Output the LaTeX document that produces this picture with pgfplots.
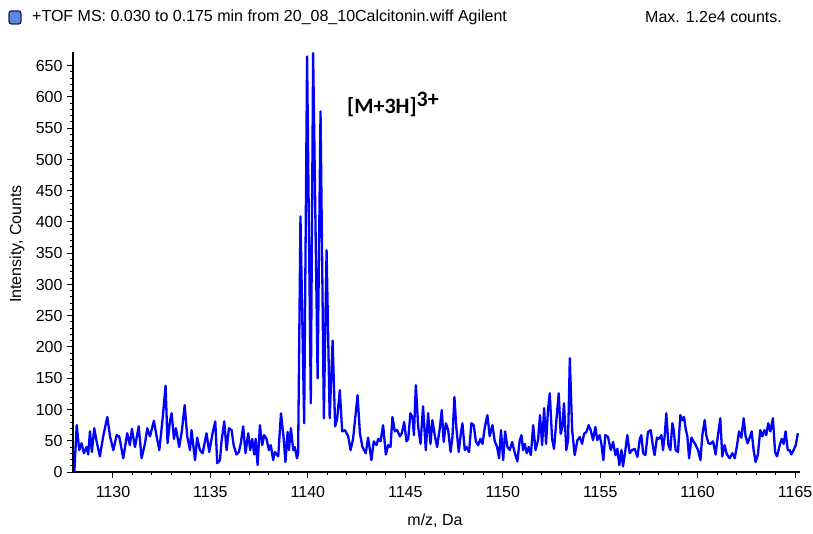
\documentclass[border=0pt]{standalone}
\usepackage{pgfplots}
\pgfplotsset{compat=1.18}
\usepackage{pgfplotstable}
\usepackage{fontspec}
\setmainfont{Liberation Sans}
\newfontfamily\annfont{Carlito}
\definecolor{specblue}{RGB}{0,0,255}
\definecolor{iconblue}{RGB}{95,135,225}
\definecolor{iconedge}{RGB}{20,30,90}

\pgfplotstableread{
mz count
1128.02 0
1128.14 75
1128.27 35
1128.39 46
1128.51 30
1128.65 40
1128.73 28
1128.82 65
1128.92 32
1129.04 70
1129.16 49
1129.33 25
1129.50 57
1129.71 88
1129.85 57
1130.02 35
1130.19 59
1130.32 57
1130.53 22
1130.73 62
1130.87 43
1130.97 69
1131.13 40
1131.32 73
1131.47 22
1131.64 45
1131.76 70
1131.90 57
1132.10 82
1132.24 57
1132.38 35
1132.55 86
1132.70 138
1132.80 46
1132.92 80
1133.01 94
1133.13 53
1133.23 70
1133.40 40
1133.54 67
1133.68 107
1133.81 57
1133.95 35
1134.03 67
1134.21 19
1134.32 55
1134.46 35
1134.60 30
1134.72 49
1134.80 62
1134.94 32
1135.11 62
1135.25 81
1135.35 14
1135.49 19
1135.57 49
1135.71 81
1135.83 35
1135.95 70
1136.09 67
1136.19 43
1136.34 28
1136.46 32
1136.56 46
1136.68 73
1136.80 30
1136.94 62
1137.04 35
1137.14 53
1137.25 28
1137.32 53
1137.42 11
1137.54 75
1137.66 43
1137.76 59
1137.88 53
1138.00 35
1138.10 43
1138.22 19
1138.31 32
1138.48 25
1138.62 94
1138.75 57
1138.85 16
1138.96 64
1139.03 35
1139.13 70
1139.25 35
1139.33 40
1139.44 22
1139.50 30
1139.62 409
1139.81 78
1139.96 665
1140.15 110
1140.27 670
1140.50 150
1140.65 577
1140.82 86
1140.96 355
1141.12 86
1141.27 210
1141.40 73
1141.50 85
1141.64 131
1141.76 65
1141.90 67
1142.07 57
1142.19 35
1142.32 53
1142.55 123
1142.67 62
1142.80 40
1142.97 30
1143.09 55
1143.26 19
1143.38 49
1143.52 43
1143.61 53
1143.73 49
1143.86 75
1144.00 28
1144.12 43
1144.24 40
1144.34 88
1144.46 65
1144.58 67
1144.72 57
1144.82 62
1144.94 80
1145.06 49
1145.15 53
1145.26 94
1145.37 88
1145.44 59
1145.54 139
1145.66 72
1145.78 45
1145.91 105
1146.05 35
1146.17 94
1146.29 45
1146.39 83
1146.51 59
1146.63 40
1146.77 70
1146.87 99
1146.97 48
1147.08 78
1147.20 67
1147.32 32
1147.42 57
1147.52 120
1147.62 70
1147.74 32
1147.85 62
1147.93 78
1148.05 35
1148.14 40
1148.27 32
1148.39 78
1148.51 75
1148.62 49
1148.74 43
1148.85 53
1148.96 45
1149.08 72
1149.21 91
1149.33 57
1149.47 75
1149.59 49
1149.71 40
1149.81 22
1149.91 67
1150.02 19
1150.12 65
1150.24 40
1150.36 35
1150.48 48
1150.62 30
1150.75 17
1150.87 51
1150.96 59
1151.04 35
1151.13 45
1151.23 30
1151.33 40
1151.44 27
1151.56 75
1151.68 35
1151.81 51
1151.91 91
1152.02 43
1152.12 102
1152.22 45
1152.32 99
1152.41 126
1152.53 53
1152.63 37
1152.75 83
1152.87 126
1152.97 61
1153.06 72
1153.14 110
1153.26 35
1153.35 51
1153.44 182
1153.56 67
1153.69 27
1153.83 51
1153.95 56
1154.07 45
1154.17 61
1154.29 64
1154.41 75
1154.51 67
1154.63 51
1154.75 72
1154.85 51
1154.97 59
1155.06 45
1155.16 19
1155.26 59
1155.40 56
1155.54 35
1155.66 48
1155.78 27
1155.88 37
1155.98 11
1156.09 35
1156.17 9
1156.29 35
1156.39 59
1156.51 30
1156.63 35
1156.77 37
1156.91 24
1157.03 53
1157.11 59
1157.20 30
1157.32 27
1157.45 64
1157.59 67
1157.71 40
1157.79 27
1157.91 55
1158.02 53
1158.14 59
1158.22 35
1158.31 59
1158.39 94
1158.50 43
1158.60 35
1158.70 78
1158.77 67
1158.87 35
1158.99 32
1159.11 91
1159.21 83
1159.30 88
1159.38 70
1159.47 57
1159.56 22
1159.68 55
1159.79 49
1159.90 43
1160.02 35
1160.14 19
1160.24 59
1160.36 83
1160.44 59
1160.55 46
1160.65 45
1160.79 49
1160.92 28
1161.04 59
1161.16 86
1161.26 25
1161.38 43
1161.50 28
1161.64 22
1161.78 30
1161.90 22
1162.02 43
1162.12 65
1162.24 55
1162.36 86
1162.46 57
1162.56 46
1162.67 55
1162.77 65
1162.87 35
1162.97 16
1163.09 28
1163.21 67
1163.32 57
1163.42 67
1163.52 59
1163.62 78
1163.73 65
1163.86 86
1163.97 32
1164.07 25
1164.21 43
1164.31 53
1164.41 45
1164.51 65
1164.62 35
1164.72 35
1164.80 28
1164.92 35
1165.03 43
1165.14 62
}\spectrum

\begin{document}
\begin{tikzpicture}[x=1pt,y=1pt]
\useasboundingbox (0,0) rectangle (813,533);
\begin{axis}[
  at={(73pt,61pt)}, anchor=south west,
  scale only axis, width=727pt, height=420pt,
  xmin=1127.95, xmax=1165.25,
  ymin=0, ymax=672,
  axis lines*=left,
  x axis line style={line width=1.3pt, black},
  y axis line style={line width=2pt, black},
  xtick={1130,1135,...,1165},
  ytick={0,50,...,650},
  minor x tick num=4,
  minor y tick num=4,
  tick align=outside,
  major tick length=6pt,
  minor tick length=3pt,
  tick style={black, line width=1pt},
  /pgf/number format/assume math mode=true,
  /pgf/number format/1000 sep={},
  tick label style={font=\fontsize{16}{18}\selectfont},
  xticklabel style={yshift=-5pt},
  yticklabel style={xshift=-1pt},
  clip=false,
]
\addplot[specblue, line width=2.3pt, line join=round] table[x=mz, y=count] {\spectrum};
\end{axis}
% legend icon and header
\draw[iconedge, line width=1.3pt, fill=iconblue, rounded corners=2.5pt] (9,509) rectangle (21,522);
\node[anchor=west, inner sep=0pt, font=\fontsize{16}{18}\selectfont] at (32,516) {+TOF MS: 0.030 to 0.175 min from 20\_08\_10Calcitonin.wiff Agilent};
\node[anchor=west, inner sep=0pt, font=\fontsize{16}{18}\selectfont] at (645,516) {Max. 1.2e4 counts.};
% axis labels
\node[rotate=90, inner sep=0pt, font=\fontsize{16}{18}\selectfont] at (17,289) {Intensity, Counts};
\node[inner sep=0pt, font=\fontsize{16}{18}\selectfont] at (435,12) {m/z, Da};
% annotation
\node[anchor=base west, inner sep=0pt, font=\annfont\bfseries\fontsize{22}{25}\selectfont] at (347,419) {[M+3H]$^{\textbf{3+}}$};
\end{tikzpicture}
\end{document}
